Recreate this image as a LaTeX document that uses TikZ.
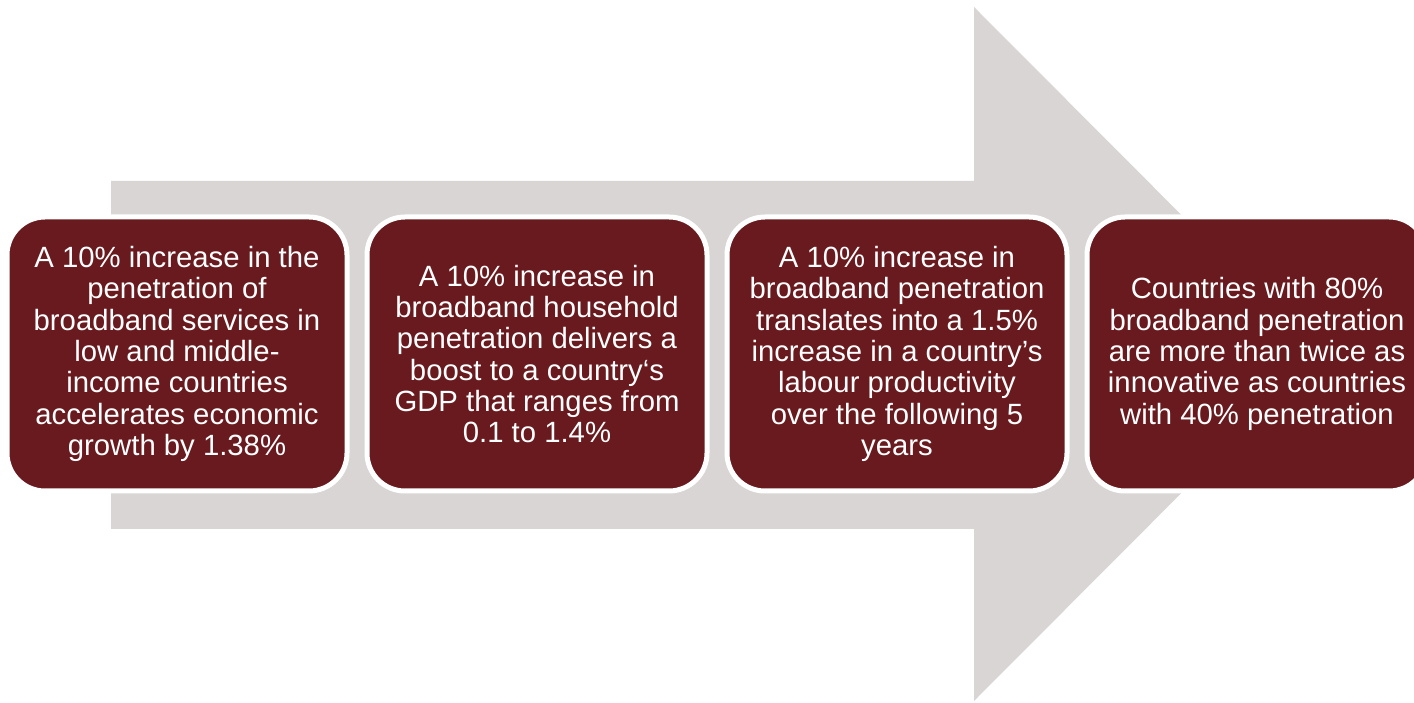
\documentclass[tikz,border=0pt]{standalone}
\usepackage{fontspec}
\setmainfont{Liberation Sans}
\usetikzlibrary{positioning}
\definecolor{boxred}{RGB}{105,26,30}
\definecolor{arrowgray}{RGB}{217,213,213}

\begin{document}
\begin{tikzpicture}[x=1pt,y=1pt,node distance=20pt,
  stepbox/.style={rectangle, rounded corners=38pt, minimum width=340pt,
    minimum height=274pt, inner sep=0pt, outer sep=0pt, fill=boxred,
    draw=white, line width=5pt, text=white, align=center,
    font=\fontsize{29.3}{31.3}\selectfont}]

  % 画背景
  \useasboundingbox[fill=white] (0,0) rectangle (1414,702);

  % 画大箭头
  \fill[arrowgray] (111,173) -- (974,173) -- (974,1) -- (1320,348)
    -- (974,695) -- (974,521) -- (111,521) -- cycle;

  % 画四个方框
  \node[stepbox] (growth) at (177,348) {A 10\% increase in the\\ penetration of\\ broadband services in\\ low and middle-\\ income countries\\ accelerates economic\\ growth by 1.38\%};
  \node[stepbox, right=of growth] (gdp) {A 10\% increase in\\ broadband household\\ penetration delivers a\\ boost to a country‘s\\ GDP that ranges from\\ 0.1 to 1.4\%};
  \node[stepbox, right=of gdp] (labour) {A 10\% increase in\\ broadband penetration\\ translates into a 1.5\%\\ increase in a country’s\\ labour productivity\\ over the following 5\\ years};
  \node[stepbox, right=of labour] (innov) {Countries with 80\%\\ broadband penetration\\ are more than twice as\\ innovative as countries\\ with 40\% penetration};
\end{tikzpicture}
\end{document}
